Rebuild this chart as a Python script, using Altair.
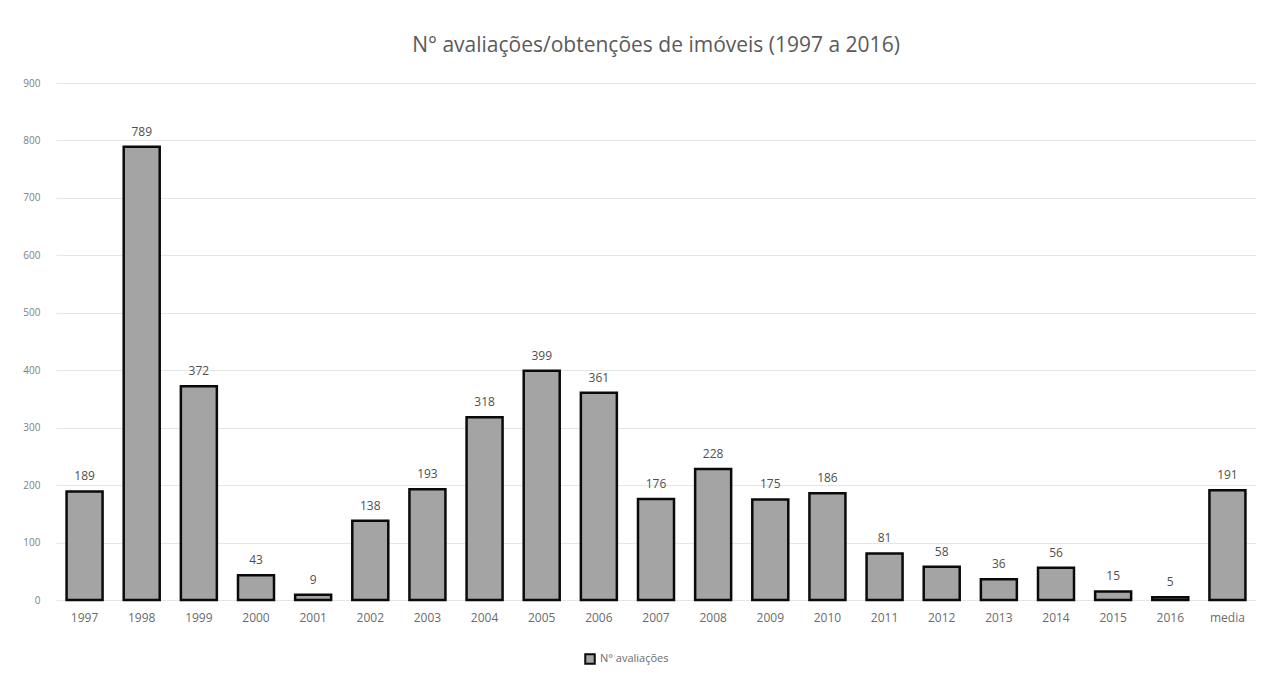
import altair as alt
import pandas as pd

categories = ["1997", "1998", "1999", "2000", "2001", "2002", "2003", "2004", "2005", "2006",
              "2007", "2008", "2009", "2010", "2011", "2012", "2013", "2014", "2015", "2016", "media"]
values = [189, 789, 372, 43, 9, 138, 193, 318, 399, 361, 176, 228, 175, 186, 81, 58, 36, 56, 15, 5, 191]
series_name = "N° avaliações"
y_ticks = [0, 100, 200, 300, 400, 500, 600, 700, 800, 900]

df = pd.DataFrame({"ano": categories, "valor": values, "serie": [series_name] * len(categories)})

FONT = "Open Sans, Liberation Sans, sans-serif"

base = alt.Chart(df).encode(
    x=alt.X("ano:N", sort=categories,
            scale=alt.Scale(paddingInner=0.37, paddingOuter=0.185),
            axis=alt.Axis(title=None, labelAngle=0, domain=False, ticks=False,
                          labelPadding=12, labelFontSize=12, labelColor="#6b6b6b",
                          labelFont=FONT)),
    y=alt.Y("valor:Q", scale=alt.Scale(domain=[0, 900], nice=False),
            axis=alt.Axis(title=None, values=y_ticks, domain=False, ticks=False,
                          labelPadding=16, labelFontSize=10, labelColor="#808080",
                          labelFont=FONT, gridColor="#e6e6e6", gridWidth=1)),
)

bars = base.mark_bar(stroke="#0a0a0a", strokeWidth=2.5).encode(
    color=alt.Color("serie:N", scale=alt.Scale(domain=[series_name], range=["#a4a4a4"]),
                    legend=alt.Legend(title=None, orient="none", legendX=528, legendY=570,
                                      symbolType="square",
                                      symbolStrokeColor="#0a0a0a", symbolStrokeWidth=2,
                                      symbolSize=90, labelFontSize=11, labelColor="#6b6b6b",
                                      labelFont=FONT))
)

labels = base.mark_text(baseline="bottom", dy=-8, fontSize=12, color="#505050", font=FONT).encode(
    text=alt.Text("valor:Q")
)

chart = (bars + labels).properties(
    width=1200,
    height=517,
    autosize=alt.AutoSizeParams(type="none"),
    padding={"left": 48, "top": 75, "right": 2, "bottom": 70},
    title=alt.Title("N° avaliações/obtenções de imóveis (1997 a 2016)", fontSize=21,
                    color="#5a5a5a", font=FONT, fontWeight="normal", anchor="middle", offset=22),
).configure_view(stroke=None)

chart.save("out.html", embed_options={"renderer": "svg", "actions": False})
